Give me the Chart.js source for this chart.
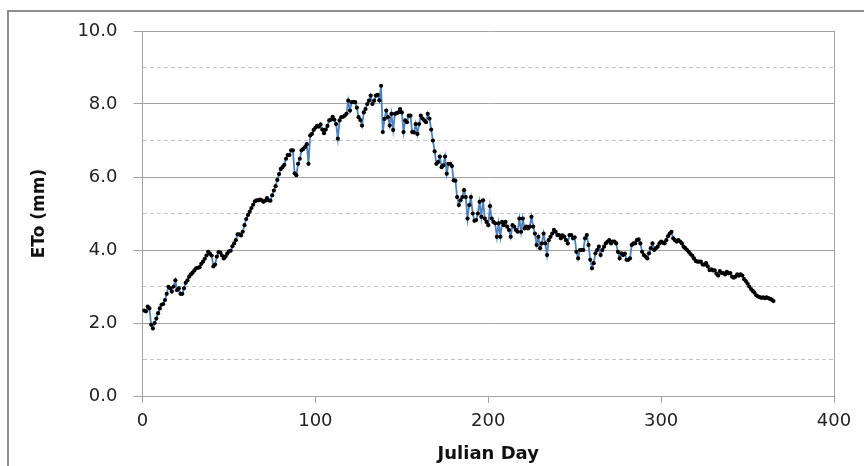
<!DOCTYPE html>
<html>
<head>
<meta charset="utf-8">
<script src="https://cdn.jsdelivr.net/npm/chart.js@4.4.1/dist/chart.umd.min.js"></script>
<style>
html,body{margin:0;padding:0;background:#fff;overflow:hidden}
#wrap{position:relative;width:864px;height:466px;overflow:hidden}
#frame{position:absolute;left:7px;top:10px;width:900px;height:500px;border-left:2px solid #8e8e8e;border-top:2px solid #8e8e8e}
canvas{position:absolute;left:0;top:0}
</style>
</head>
<body>
<div id="wrap"><div id="frame"></div><canvas id="eto" width="864" height="466"></canvas></div>
<script>
// daily reference evapotranspiration (day 1..365)
const eto = [
  2.34, 2.32, 2.45, 2.40, 1.95, 1.85, 2.00, 2.12, 2.27, 2.40,
  2.50, 2.52, 2.63, 2.80, 2.99, 2.95, 2.86, 3.00, 3.17, 2.90,
  2.95, 2.80, 2.80, 2.95, 3.10, 3.17, 3.27, 3.33, 3.38, 3.44,
  3.50, 3.51, 3.53, 3.62, 3.68, 3.76, 3.85, 3.95, 3.90, 3.85,
  3.55, 3.60, 3.82, 3.94, 3.93, 3.85, 3.77, 3.82, 3.90, 3.96,
  3.98, 4.10, 4.18, 4.27, 4.43, 4.43, 4.40, 4.50, 4.68, 4.85,
  4.96, 5.05, 5.15, 5.24, 5.33, 5.36, 5.36, 5.38, 5.36, 5.32,
  5.35, 5.42, 5.36, 5.35, 5.50, 5.63, 5.75, 5.92, 6.08, 6.22,
  6.27, 6.33, 6.50, 6.60, 6.60, 6.73, 6.73, 6.10, 6.05, 6.36,
  6.50, 6.73, 6.77, 6.82, 6.90, 6.36, 7.14, 7.18, 7.29, 7.35,
  7.40, 7.38, 7.44, 7.30, 7.20, 7.30, 7.40, 7.55, 7.57, 7.65,
  7.57, 7.45, 7.05, 7.55, 7.64, 7.65, 7.68, 7.73, 8.09, 7.82,
  8.05, 8.05, 8.05, 7.90, 7.64, 7.56, 7.41, 7.77, 7.86, 8.00,
  8.09, 8.23, 8.00, 8.09, 8.23, 8.25, 8.10, 8.50, 7.23, 7.59,
  7.82, 7.64, 7.41, 7.73, 7.29, 7.73, 7.75, 7.77, 7.86, 7.77,
  7.23, 7.55, 7.50, 7.68, 7.68, 7.23, 7.22, 7.45, 7.18, 7.45,
  7.68, 7.60, 7.55, 7.50, 7.73, 7.60, 7.30, 7.00, 6.70, 6.36,
  6.41, 6.56, 6.27, 6.32, 6.56, 6.09, 6.36, 6.36, 6.30, 5.91,
  5.90, 5.45, 5.23, 5.36, 5.45, 5.64, 5.45, 4.86, 5.23, 5.45,
  5.00, 4.80, 4.82, 5.00, 5.32, 4.91, 5.36, 4.86, 4.77, 4.68,
  5.20, 4.86, 4.77, 4.73, 4.36, 4.73, 4.36, 4.77, 4.68, 4.77,
  4.64, 4.55, 4.36, 4.68, 4.64, 4.55, 4.50, 4.86, 4.50, 4.86,
  4.59, 4.64, 4.59, 4.64, 4.91, 4.64, 4.45, 4.14, 4.36, 4.05,
  4.18, 4.45, 4.18, 3.86, 4.27, 4.36, 4.45, 4.55, 4.50, 4.41,
  4.41, 4.32, 4.40, 4.36, 4.27, 4.18, 4.41, 4.41, 4.32, 4.35,
  3.95, 3.77, 4.00, 4.00, 4.00, 4.32, 4.41, 4.14, 3.73, 3.50,
  3.64, 3.91, 4.00, 4.09, 3.86, 4.00, 4.09, 4.18, 4.23, 4.27,
  4.18, 4.23, 4.23, 4.18, 3.95, 3.77, 3.91, 3.86, 3.90, 3.73,
  3.73, 3.77, 4.14, 4.18, 4.18, 4.27, 4.29, 4.18, 3.95, 3.86,
  3.82, 3.77, 3.91, 4.05, 4.18, 4.00, 4.05, 4.09, 4.18, 4.23,
  4.20, 4.18, 4.27, 4.38, 4.45, 4.50, 4.32, 4.27, 4.23, 4.27,
  4.23, 4.18, 4.09, 4.05, 4.00, 3.95, 3.89, 3.84, 3.77, 3.70,
  3.68, 3.68, 3.68, 3.60, 3.60, 3.64, 3.55, 3.45, 3.47, 3.44,
  3.44, 3.35, 3.30, 3.42, 3.37, 3.37, 3.33, 3.40, 3.36, 3.37,
  3.27, 3.24, 3.27, 3.33, 3.30, 3.33, 3.30, 3.20, 3.15, 3.08,
  3.00, 2.93, 2.88, 2.83, 2.76, 2.73, 2.71, 2.69, 2.70, 2.68,
  2.70, 2.68, 2.66, 2.64, 2.60
];
const firstDay = 1;
const xTicks = [0, 100, 200, 300, 400];
const yTicks = [0, 2, 4, 6, 8, 10];

const days = eto.map((v, i) => firstDay + i);
const points = days.map((d, i) => ({ x: d, y: eto[i] }));

const axisGrey = '#a3a3a3';
const dashGrey = '#c4c4c4';
const tickFont = { family: 'DejaVu Sans', size: 18 };
const isMajor = v => yTicks.includes(v);

new Chart(document.getElementById('eto'), {
  type: 'line',
  data: { datasets: [{
    data: points,
    borderColor: '#4f81bd', borderWidth: 1.8, tension: 0,
    pointRadius: 2.1, pointBorderWidth: 0, pointBackgroundColor: '#000', clip: false
  }] },
  options: {
    responsive: false, animation: false, devicePixelRatio: 1,
    layout: { padding: { top: 31, right: 30, bottom: 0, left: 0 } },
    plugins: { legend: { display: false }, tooltip: { enabled: false } },
    scales: {
      x: {
        type: 'linear', min: 0, max: 400,
        afterBuildTicks: s => { s.ticks = xTicks.map(v => ({ value: v })); },
        afterFit: s => { s.height = 70; },
        ticks: { font: tickFont, color: '#222', padding: 8, maxRotation: 0 },
        grid: {
          color: c => (c.tick && c.tick.value === 400) ? axisGrey : 'transparent',
          tickColor: axisGrey, tickLength: 7
        },
        border: { color: axisGrey, width: 1 },
        title: { display: true, text: 'Julian Day', font: { family: 'DejaVu Sans', size: 18, weight: 'bold' }, color: '#111', padding: { top: 0, bottom: 1 } }
      },
      y: {
        min: 0, max: 10,
        afterFit: s => { s.width = 142.5; },
        ticks: {
          stepSize: 1, autoSkip: false, font: tickFont, color: '#222', padding: 16,
          callback: v => isMajor(v) ? v.toFixed(1) : ''
        },
        grid: {
          color: c => (c.tick && !isMajor(c.tick.value)) ? dashGrey : axisGrey,
          tickColor: c => (c.tick && !isMajor(c.tick.value)) ? 'transparent' : axisGrey,
          tickLength: 9
        },
        border: {
          color: axisGrey, width: 1,
          dash: c => (c.tick && !isMajor(c.tick.value)) ? [4, 3] : []
        },
        title: { display: true, text: 'ETo (mm)', font: { family: 'DejaVu Sans', size: 17, weight: 'bold' }, color: '#111', padding: { top: 29, bottom: 0 } }
      }
    }
  }
});
</script>
</body>
</html>
